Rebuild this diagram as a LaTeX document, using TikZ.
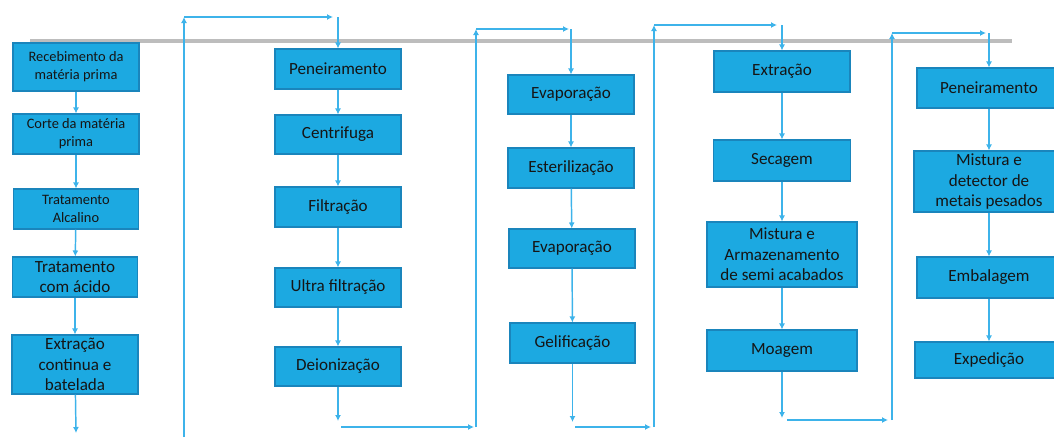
\documentclass[tikz,border=0pt]{standalone}
\usepackage{fontspec}
\setmainfont{Carlito}
\usetikzlibrary{arrows.meta}
\definecolor{boxfill}{HTML}{1CA9E1}
\definecolor{boxline}{HTML}{1A85BC}
\definecolor{conn}{HTML}{3DB3EA}
\definecolor{txt}{HTML}{151515}
\definecolor{rule}{HTML}{BDBDBD}
\tikzset{
  box/.style={draw=boxline, line width=0.8pt, fill=boxfill, text=txt, inner sep=0pt, align=center, font=\fontsize{12.8}{15.5}\selectfont},
  smallbox/.style={box, font=\fontsize{10.8}{13.5}\selectfont},
  arr/.style={draw=conn, line width=1.1pt, -{Latex[length=4.5pt,width=4.5pt]}},
}
\begin{document}
\begin{tikzpicture}[x=0.75pt,y=-0.75pt]
\useasboundingbox (0,0) rectangle (1054,437);
\clip (0,0) rectangle (1054,437);
% gray rule
\draw[rule, line width=2.6pt] (30,41) -- (1012,41);
% column 1
\node[smallbox, minimum width=126*0.75pt, minimum height=48*0.75pt] (b1) at (76,67) {Recebimento da\\matéria prima};
\node[smallbox, minimum width=126*0.75pt, minimum height=40*0.75pt] (b2) at (76,134) {Corte da matéria\\prima};
\node[smallbox, minimum width=125*0.75pt, minimum height=40*0.75pt] (b3) at (76,209) {Tratamento\\Alcalino};
\node[box, minimum width=125*0.75pt, minimum height=40*0.75pt] (b4) at (75,277) {Tratamento\\com ácido};
\node[box, minimum width=126*0.75pt, minimum height=59*0.75pt] (b5) at (75,364.5) {Extração\\continua e\\batelada};
% column 2
\node[box, minimum width=126*0.75pt, minimum height=40*0.75pt] (c1) at (338,69) {Peneiramento};
\node[box, minimum width=126*0.75pt, minimum height=39*0.75pt] (c2) at (338,134.5) {Centrifuga};
\node[box, minimum width=126*0.75pt, minimum height=40*0.75pt] (c3) at (338,207) {Filtração};
\node[box, minimum width=126*0.75pt, minimum height=39*0.75pt] (c4) at (338,287.5) {Ultra filtração};
\node[box, minimum width=126*0.75pt, minimum height=39*0.75pt] (c5) at (338,366.5) {Deionização};
% column 3
\node[box, minimum width=126*0.75pt, minimum height=39*0.75pt] (d1) at (571,94.5) {Evaporação};
\node[box, minimum width=126*0.75pt, minimum height=40*0.75pt] (d2) at (571,168) {Esterilização};
\node[box, minimum width=126*0.75pt, minimum height=39*0.75pt] (d3) at (572,248.5) {Evaporação};
\node[box, minimum width=125*0.75pt, minimum height=40*0.75pt] (d4) at (572.5,343) {Gelificação};
% column 4
\node[box, minimum width=136*0.75pt, minimum height=41*0.75pt] (e1) at (782,71.5) {Extração};
\node[box, minimum width=137*0.75pt, minimum height=41*0.75pt] (e2) at (782,160.5) {Secagem};
\node[box, minimum width=150*0.75pt, minimum height=65*0.75pt] (e3) at (782,254.5) {Mistura e\\Armazenamento\\de semi acabados};
\node[box, minimum width=150*0.75pt, minimum height=41*0.75pt] (e4) at (782,350.5) {Moagem};
% column 5
\node[box, minimum width=144*0.75pt, minimum height=40*0.75pt] (f1) at (989,88) {Peneiramento};
\node[box, minimum width=150*0.75pt, minimum height=61*0.75pt] (f2) at (989,181.5) {Mistura e\\detector de\\metais pesados};
\node[box, minimum width=144*0.75pt, minimum height=41*0.75pt] (f3) at (989,277.5) {Embalagem};
\node[box, minimum width=148*0.75pt, minimum height=36*0.75pt] (f4) at (989,360) {Expedição};
% in-column arrows
\foreach \a/\b in {b1/b2,b2/b3,b3/b4,b4/b5,c1/c2,c2/c3,c3/c4,c4/c5,d1/d2,d2/d3,d3/d4,e1/e2,e2/e3,e3/e4,f1/f2,f2/f3,f3/f4}
  \draw[arr] (\a) -- (\b);
% loop coordinates
\coordinate (p0) at (76,433);
\coordinate (q0) at (184,437);
\coordinate (q1) at (184,17);
\coordinate (q2) at (333,17);
\coordinate (q3) at (338,17);
\coordinate (r0) at (338,421);
\coordinate (r1) at (341,427);
\coordinate (r2) at (474,427);
\coordinate (r3) at (476,427);
\coordinate (r4) at (476,29);
\coordinate (r5) at (569,29);
\coordinate (r6) at (571,29);
\coordinate (s0) at (572.5,422);
\coordinate (s1) at (575,427);
\coordinate (s2) at (651,427);
\coordinate (s3) at (654,427);
\coordinate (s4) at (654,25);
\coordinate (s5) at (777,25);
\coordinate (s6) at (782,25);
\coordinate (t0) at (782,418);
\coordinate (t1) at (787,420);
\coordinate (t2) at (888,420);
\coordinate (t3) at (892,420);
\coordinate (t4) at (892,33);
\coordinate (t5) at (986,33);
\coordinate (t6) at (989,33);
% loops
\draw[arr] (b5) -- (p0);
\draw[arr] (q0) -- (q1);
\draw[arr] (q1) -- (q2);
\draw[arr] (q3) -- (c1);
\draw[arr] (c5) -- (r0);
\draw[arr] (r1) -- (r2);
\draw[arr] (r3) -- (r4);
\draw[arr] (r4) -- (r5);
\draw[arr] (r6) -- (d1);
\draw[arr] (d4) -- (s0);
\draw[arr] (s1) -- (s2);
\draw[arr] (s3) -- (s4);
\draw[arr] (s4) -- (s5);
\draw[arr] (s6) -- (e1);
\draw[arr] (e4) -- (t0);
\draw[arr] (t1) -- (t2);
\draw[arr] (t3) -- (t4);
\draw[arr] (t4) -- (t5);
\draw[arr] (t6) -- (f1);
\end{tikzpicture}
\end{document}
